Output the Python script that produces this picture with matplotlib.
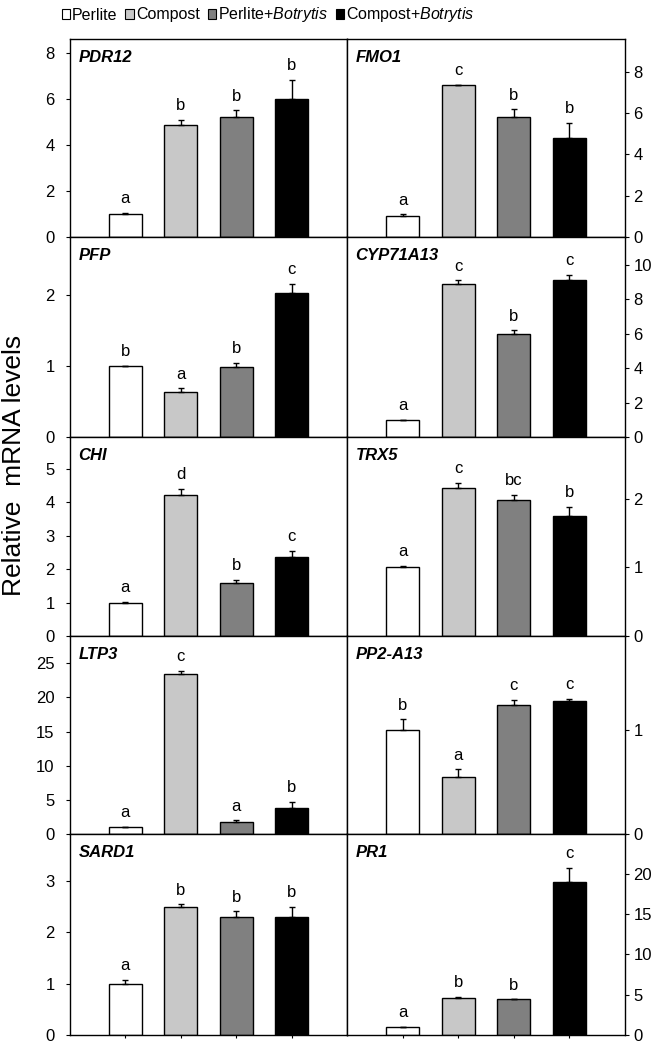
import matplotlib
matplotlib.use("Agg")
import matplotlib.pyplot as plt
from matplotlib.patches import Patch

plt.rcParams["font.family"] = ["Liberation Sans", "DejaVu Sans"]
plt.rcParams["mathtext.fontset"] = "custom"
plt.rcParams["mathtext.rm"] = "Liberation Sans"
plt.rcParams["mathtext.it"] = "Liberation Sans:italic"

# treatments
treatments = ["Perlite", "Compost", "Perlite+$\\mathit{Botrytis}$", "Compost+$\\mathit{Botrytis}$"]
bar_colors = ["white", "#c8c8c8", "#808080", "black"]

# relative mRNA levels (mean, upper error, letter) per gene
pdr12_mean = [1.0, 4.87, 5.23, 5.98]
pdr12_err = [0.05, 0.21, 0.27, 0.84]
pdr12_sig = ["a", "b", "b", "b"]

fmo1_mean = [1.0, 7.36, 5.84, 4.8]
fmo1_err = [0.1, 0.0, 0.35, 0.75]
fmo1_sig = ["a", "c", "b", "b"]

pfp_mean = [1.0, 0.635, 0.98, 2.03]
pfp_err = [0.0, 0.05, 0.07, 0.13]
pfp_sig = ["b", "a", "b", "c"]

cyp_mean = [1.0, 8.89, 5.96, 9.1]
cyp_err = [0.0, 0.2, 0.23, 0.3]
cyp_sig = ["a", "c", "b", "c"]

chi_mean = [1.0, 4.22, 1.59, 2.37]
chi_err = [0.03, 0.18, 0.08, 0.18]
chi_sig = ["a", "d", "b", "c"]

trx5_mean = [1.0, 2.16, 1.98, 1.75]
trx5_err = [0.02, 0.07, 0.08, 0.13]
trx5_sig = ["a", "c", "bc", "b"]

ltp3_mean = [1.0, 23.4, 1.8, 3.8]
ltp3_err = [0.0, 0.5, 0.2, 0.9]
ltp3_sig = ["a", "c", "a", "b"]

pp2_mean = [1.0, 0.55, 1.24, 1.28]
pp2_err = [0.1, 0.07, 0.05, 0.02]
pp2_sig = ["b", "a", "c", "c"]

sard1_mean = [1.0, 2.5, 2.3, 2.31]
sard1_err = [0.07, 0.05, 0.11, 0.19]
sard1_sig = ["a", "b", "b", "b"]

pr1_mean = [1.0, 4.6, 4.4, 18.9]
pr1_err = [0.0, 0.13, 0.0, 1.8]
pr1_sig = ["a", "b", "b", "c"]

# panel layout: (gene, mean, err, letters, ymax, yticks, column, row)
panels = [
    ("PDR12", pdr12_mean, pdr12_err, pdr12_sig, 8.6, [0, 2, 4, 6, 8], 0, 0),
    ("FMO1", fmo1_mean, fmo1_err, fmo1_sig, 9.6, [0, 2, 4, 6, 8], 1, 0),
    ("PFP", pfp_mean, pfp_err, pfp_sig, 2.82, [0, 1, 2], 0, 1),
    ("CYP71A13", cyp_mean, cyp_err, cyp_sig, 11.6, [0, 2, 4, 6, 8, 10], 1, 1),
    ("CHI", chi_mean, chi_err, chi_sig, 5.95, [0, 1, 2, 3, 4, 5], 0, 2),
    ("TRX5", trx5_mean, trx5_err, trx5_sig, 2.9, [0, 1, 2], 1, 2),
    ("LTP3", ltp3_mean, ltp3_err, ltp3_sig, 29, [0, 5, 10, 15, 20, 25], 0, 3),
    ("PP2-A13", pp2_mean, pp2_err, pp2_sig, 1.9, [0, 1], 1, 3),
    ("SARD1", sard1_mean, sard1_err, sard1_sig, 3.92, [0, 1, 2, 3], 0, 4),
    ("PR1", pr1_mean, pr1_err, pr1_sig, 24.9, [0, 5, 10, 15, 20], 1, 4),
]

W, H = 664, 1047
fig = plt.figure(figsize=(W / 100, H / 100), dpi=100)

col_x = [70, 347]
col_w = [277, 278]
row_top = [39, 237, 437, 636, 834]
row_bot = [237, 437, 636, 834, 1035]
xpos = [1, 2, 3, 4]

for gene, mean, err, sig, ymax, yticks, c, r in panels:
    ax = fig.add_axes([col_x[c] / W, 1 - row_bot[r] / H, col_w[c] / W, (row_bot[r] - row_top[r]) / H])
    ax.bar(xpos, mean, width=0.6, color=bar_colors, edgecolor="black", linewidth=1, zorder=2)
    ax.errorbar(xpos, mean, yerr=[[0] * 4, err], fmt="none", ecolor="black",
                elinewidth=1, capsize=2.5, capthick=1, zorder=3)
    for x, m, e, s in zip(xpos, mean, err, sig):
        ax.annotate(s, (x, m + e), xytext=(0, 7), textcoords="offset points",
                    ha="center", va="baseline", fontsize=12)
    ax.set_xlim(0, 5)
    ax.set_ylim(0, ymax)
    ax.set_yticks(yticks)
    ax.text(0.03, 0.945, gene, transform=ax.transAxes, fontsize=12,
            fontweight="bold", fontstyle="italic", va="top", ha="left")
    for sp in ax.spines.values():
        sp.set_linewidth(1)
    if c == 0:
        ax.tick_params(axis="y", direction="out", length=3, pad=8, labelsize=12)
    else:
        ax.yaxis.tick_right()
        ax.tick_params(axis="y", direction="out", length=3, pad=3, labelsize=12)
    if r == 4:
        ax.set_xticks(xpos)
        ax.set_xticklabels([])
        ax.tick_params(axis="x", direction="out", length=2)
    else:
        ax.set_xticks([])

fig.text(0.021, 1 - 465 / H, "Relative  mRNA levels", rotation=90,
         ha="center", va="center", fontsize=19)

handles = [Patch(facecolor=col, edgecolor="black", linewidth=0.8) for col in bar_colors]
fig.legend(handles, treatments, loc="center", bbox_to_anchor=(268 / W, 1 - 15 / H),
           ncol=4, frameon=False, fontsize=11.5, handlelength=0.55, handleheight=0.55,
           handletextpad=0.1, columnspacing=0.5, borderaxespad=0)

fig.savefig("out.png", dpi=100)
